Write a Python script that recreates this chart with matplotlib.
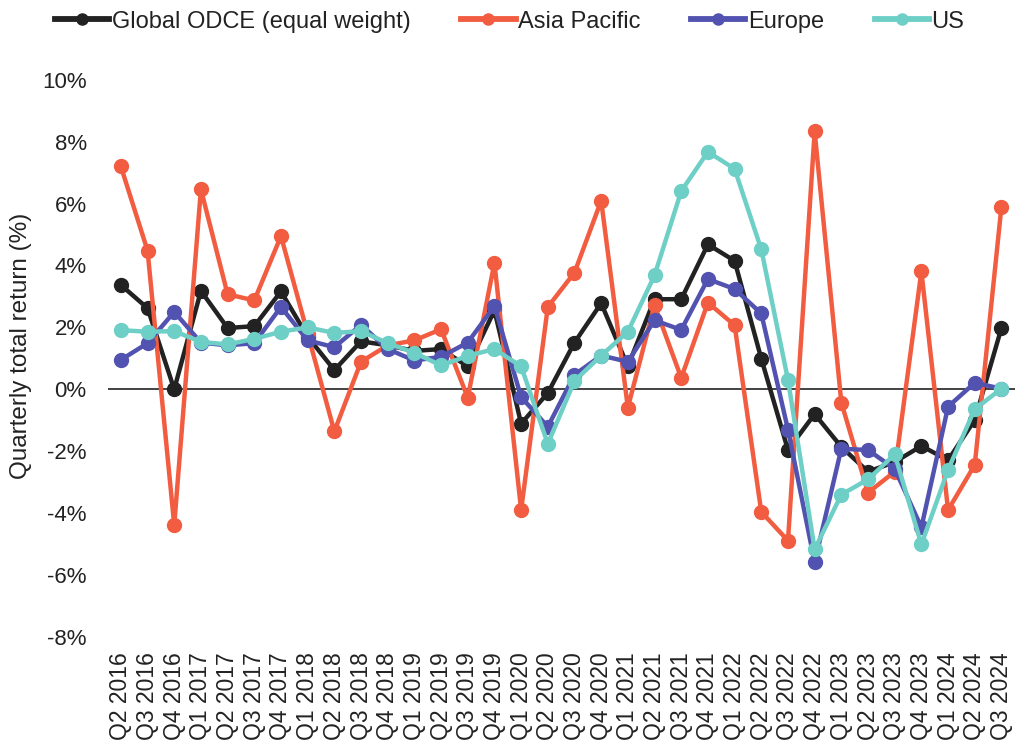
import matplotlib
matplotlib.use("Agg")
import matplotlib.pyplot as plt
from matplotlib.ticker import FuncFormatter

plt.rcParams['font.family'] = ['Liberation Sans', 'DejaVu Sans']

quarters = []
for yr in range(2016, 2025):
    for q in range(1, 5):
        quarters.append("Q%d %d" % (q, yr))
quarters = quarters[1:-1]  # Q2 2016 .. Q3 2024

global_odce = [3.37, 2.62, 0.0, 3.18, 1.98, 2.04, 3.16, 1.7, 0.62, 1.55, 1.42, 1.24,
               1.30, 0.74, 2.55, -1.11, -0.12, 1.51, 2.78, 0.74, 2.91, 2.91, 4.68,
               4.15, 0.99, -1.96, -0.80, -1.86, -2.66, -2.35, -1.83, -2.29, -0.99, 1.98]
asia_pacific = [7.20, 4.48, -4.39, 6.46, 3.07, 2.87, 4.95, 1.8, -1.36, 0.89, 1.42, 1.58,
                1.94, -0.27, 4.08, -3.90, 2.66, 3.77, 6.09, -0.59, 2.72, 0.37, 2.80,
                2.07, -3.96, -4.89, 8.33, -0.43, -3.34, -2.66, 3.81, -3.90, -2.44, 5.90]
europe = [0.95, 1.49, 2.50, 1.51, 1.42, 1.49, 2.66, 1.58, 1.36, 2.08, 1.30, 0.93,
          1.05, 1.51, 2.69, -0.25, -1.21, 0.47, 1.09, 0.89, 2.23, 1.92, 3.56,
          3.24, 2.45, -1.30, -5.59, -1.92, -1.96, -2.57, -4.46, -0.56, 0.21, 0.02]
us = [1.91, 1.86, 1.88, 1.53, 1.45, 1.63, 1.86, 2.0, 1.82, 1.88, 1.49, 1.18,
      0.77, 1.08, 1.30, 0.74, -1.76, 0.27, 1.09, 1.86, 3.68, 6.40, 7.67,
      7.12, 4.52, 0.31, -5.17, -3.40, -2.91, -2.10, -5.01, -2.60, -0.64, 0.02]

series = [("Global ODCE (equal weight)", global_odce, "#222222"),
          ("Asia Pacific", asia_pacific, "#F25C40"),
          ("Europe", europe, "#5253B0"),
          ("US", us, "#6ECFC7")]

fig = plt.figure(figsize=(10.24, 7.45), dpi=100)
ax = fig.add_axes([0.105, 0.145, 0.886, 0.748])

x = list(range(len(quarters)))
ax.axhline(0, color="#222222", lw=1.2, zorder=1)
for name, vals, col in series:
    ax.plot(x, vals, color=col, lw=3.2, marker='o', markersize=10, label=name, zorder=2)

ax.set_xlim(-0.5, len(quarters) - 0.5)
ax.set_ylim(-8, 10)
ax.set_yticks(range(-8, 11, 2))
ax.yaxis.set_major_formatter(FuncFormatter(lambda v, p: "%d%%" % v))
ax.set_xticks(x)
ax.set_xticklabels(quarters, rotation=90, fontsize=16.5, color="#222222")
ax.tick_params(axis='y', labelsize=16, length=0, pad=15, labelcolor="#222222")
ax.tick_params(axis='x', length=0, pad=11)
for s in ax.spines.values():
    s.set_visible(False)
ax.set_ylabel("Quarterly total return (%)", fontsize=17.5, color="#222222")
ax.yaxis.set_label_coords(-0.083, 0.522)

leg = fig.legend(loc='center left', bbox_to_anchor=(0.033, 0.971), ncol=4, frameon=False,
                 fontsize=17, handlelength=2.3, handletextpad=0.1, columnspacing=2.15,
                 markerscale=0.8, labelcolor="#222222")
for h in leg.legend_handles:
    h.set_linewidth(4.2)

fig.savefig("out.png", dpi=100)
